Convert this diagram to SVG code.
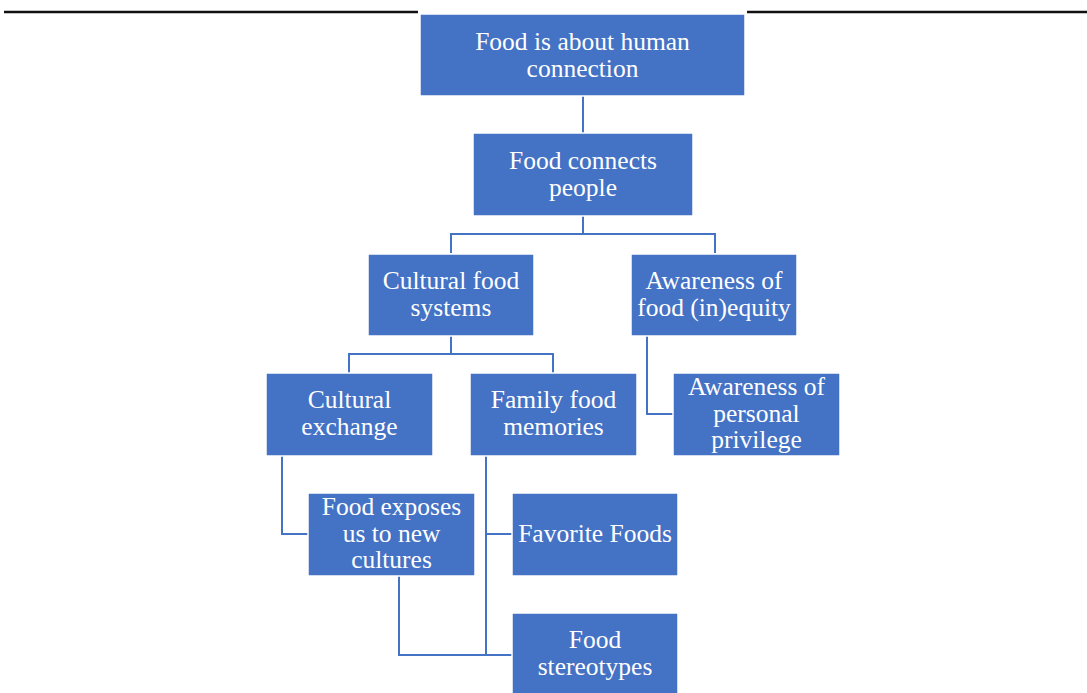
<svg xmlns="http://www.w3.org/2000/svg" width="1087" height="693" viewBox="0 0 1087 693">
  <style>
    .box rect { fill: #4472C4; stroke: #ffffff; stroke-width: 1.5; }
    .box text { fill: #ffffff; font-family: "Liberation Serif", "Times New Roman", serif; font-size: 25.5px; text-anchor: middle; }
    .rule { stroke: #111111; stroke-width: 2.5; fill: none; }
    #connectors path { stroke: #4472C4; stroke-width: 2; fill: none; }
  </style>
  <rect width="1087" height="693" fill="#ffffff"/>

  <!-- page rule across the top -->
  <line class="rule" x1="4" y1="12" x2="418" y2="12"/>
  <line class="rule" x1="747" y1="12" x2="1087" y2="12"/>

  <g id="connectors">
    <path d="M583 96 V133"/>
    <path d="M583 216 V234 M451 253 V234 H715 V253"/>
    <path d="M451 336 V354 M349 373 V354 H553 V373"/>
    <path d="M647 336 V414 H673"/>
    <path d="M282 456 V534 H308"/>
    <path d="M486 456 V655 H512 M486 534 H512"/>
    <path d="M399 576 V655 H486"/>
  </g>

  <g id="n-human-connection" class="box">
    <rect x="420" y="14" width="325" height="82"/>
    <text x="582.5" y="50">Food is about human</text>
    <text x="582.5" y="76.5">connection</text>
  </g>
  <g id="n-connects-people" class="box">
    <rect x="473" y="133" width="220" height="83"/>
    <text x="583" y="169">Food connects</text>
    <text x="583" y="195.5">people</text>
  </g>
  <g id="n-cultural-systems" class="box">
    <rect x="368" y="254" width="166" height="82"/>
    <text x="451" y="289">Cultural food</text>
    <text x="451" y="315.5">systems</text>
  </g>
  <g id="n-food-equity" class="box">
    <rect x="631" y="254" width="166" height="82"/>
    <text x="714" y="289">Awareness of</text>
    <text x="714" y="315.5">food (in)equity</text>
  </g>
  <g id="n-cultural-exchange" class="box">
    <rect x="266" y="373" width="167" height="83"/>
    <text x="349.5" y="408">Cultural</text>
    <text x="349.5" y="434.5">exchange</text>
  </g>
  <g id="n-family-memories" class="box">
    <rect x="470" y="373" width="167" height="83"/>
    <text x="553.5" y="408">Family food</text>
    <text x="553.5" y="434.5">memories</text>
  </g>
  <g id="n-personal-privilege" class="box">
    <rect x="673" y="373" width="167" height="83"/>
    <text x="756.5" y="395">Awareness of</text>
    <text x="756.5" y="421.5">personal</text>
    <text x="756.5" y="448">privilege</text>
  </g>
  <g id="n-new-cultures" class="box">
    <rect x="308" y="493" width="167" height="83"/>
    <text x="391.5" y="515">Food exposes</text>
    <text x="391.5" y="541.5">us to new</text>
    <text x="391.5" y="568">cultures</text>
  </g>
  <g id="n-favorite-foods" class="box">
    <rect x="512" y="493" width="166" height="83"/>
    <text x="595" y="542">Favorite Foods</text>
  </g>
  <g id="n-stereotypes" class="box">
    <rect x="512" y="613" width="166" height="84"/>
    <text x="595" y="648">Food</text>
    <text x="595" y="674.5">stereotypes</text>
  </g>
</svg>
